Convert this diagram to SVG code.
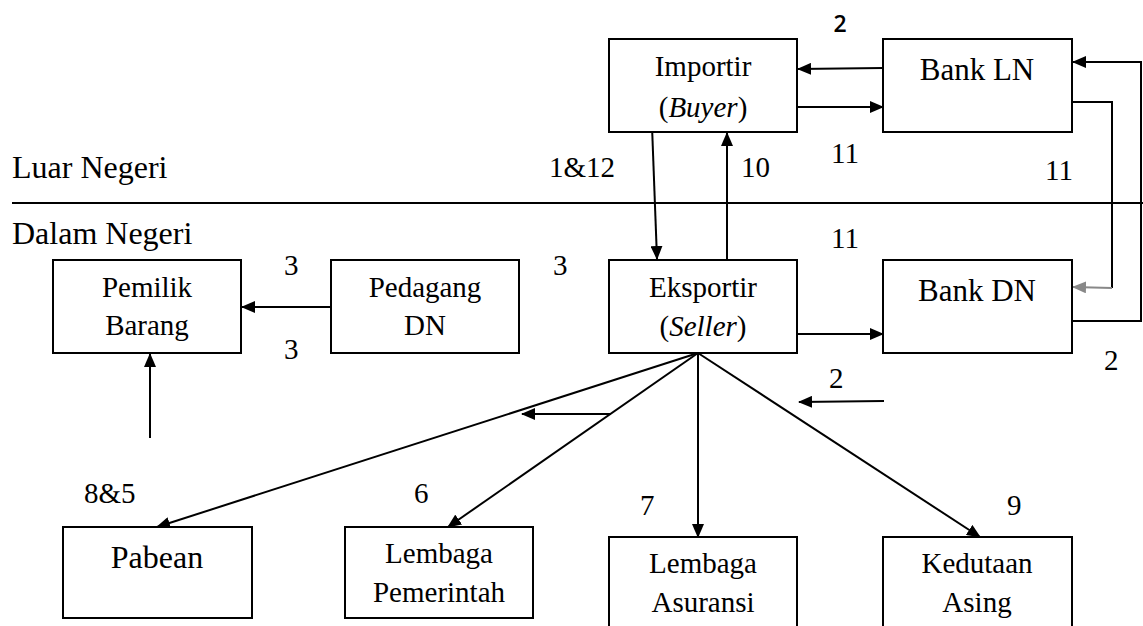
<svg xmlns="http://www.w3.org/2000/svg" width="1143" height="626" viewBox="0 0 1143 626" font-family="'Liberation Serif', 'Times New Roman', serif">
<style>
.box{fill:#fff;stroke:#000;stroke-width:2}
.t{font-family:'Liberation Serif','Times New Roman',serif;font-size:29px;fill:#000;text-anchor:middle}
.n{font-family:'Liberation Serif','Times New Roman',serif;font-size:29px;fill:#000}
.big{font-size:31px}
.c{fill:none;stroke:#000;stroke-width:2}
.g{fill:none;stroke:#888;stroke-width:2}
</style>
<defs>
<marker id="ah" markerUnits="userSpaceOnUse" markerWidth="14" markerHeight="12" refX="13" refY="6" orient="auto"><path d="M0,0 L14,6 L0,12 z" fill="#000"/></marker>
<marker id="ahg" markerUnits="userSpaceOnUse" markerWidth="14" markerHeight="12" refX="13" refY="6" orient="auto"><path d="M0,0 L14,6 L0,12 z" fill="#888"/></marker>
</defs>
<rect width="1143" height="626" fill="#fff"/>
<g id="regions">
<line x1="12" y1="203" x2="1143" y2="203" stroke="#000" stroke-width="2"/>
<text class="n" x="12" y="178" style="font-size:32px">Luar Negeri</text>
<text class="n" x="12" y="244" style="font-size:32px">Dalam Negeri</text>
</g>
<g id="connectors">
<line class="c" x1="883" y1="68" x2="798" y2="69" marker-end="url(#ah)"/>
<line class="c" x1="797" y1="107" x2="883" y2="107" marker-end="url(#ah)"/>
<polyline class="c" points="1072,102 1112,102 1112,288"/>
<line class="g" x1="1112" y1="288" x2="1073" y2="287" marker-end="url(#ahg)"/>
<polyline class="c" points="1072,321 1141,321 1141,62 1073,62" marker-end="url(#ah)"/>
<line class="c" x1="652" y1="126" x2="657" y2="259" marker-end="url(#ah)"/>
<line class="c" x1="727" y1="260" x2="727" y2="133" marker-end="url(#ah)"/>
<line class="c" x1="797" y1="334" x2="883" y2="334" marker-end="url(#ah)"/>
<line class="c" x1="331" y1="307" x2="242" y2="307" marker-end="url(#ah)"/>
<line class="c" x1="150" y1="438" x2="150" y2="354" marker-end="url(#ah)"/>
<line class="c" x1="698" y1="353" x2="157" y2="527" marker-end="url(#ah)"/>
<line class="c" x1="698" y1="353" x2="448" y2="527" marker-end="url(#ah)"/>
<line class="c" x1="698" y1="353" x2="698" y2="537" marker-end="url(#ah)"/>
<line class="c" x1="698" y1="353" x2="980" y2="537" marker-end="url(#ah)"/>
<line class="c" x1="611" y1="414" x2="522" y2="414" marker-end="url(#ah)"/>
<line class="c" x1="884" y1="401" x2="799" y2="402" marker-end="url(#ah)"/>
</g>
<g id="labels">
<text x="840" y="32" style="font-family:'Open Sans','Liberation Sans',sans-serif;font-size:23px;font-weight:600;text-anchor:middle">2</text>
<text class="n" x="549" y="177">1&amp;12</text>
<text class="n" x="741" y="177">10</text>
<text class="n" x="831" y="163">11</text>
<text class="n" x="1045" y="180">11</text>
<text class="n" x="831" y="248">11</text>
<text class="n" x="284" y="275">3</text>
<text class="n" x="284" y="359">3</text>
<text class="n" x="553" y="275">3</text>
<text class="n" x="1104" y="370">2</text>
<text class="n" x="829" y="388">2</text>
<text class="n" x="84" y="503">8&amp;5</text>
<text class="n" x="414" y="503">6</text>
<text class="n" x="640" y="515">7</text>
<text class="n" x="1007" y="515">9</text>
</g>
<g id="importir">
<rect class="box" x="609" y="39" width="188" height="93"/>
<text class="t" x="703" y="76">Importir</text>
<text class="t" x="703" y="117">(<tspan font-style="italic">Buyer</tspan>)</text>
</g>
<g id="bank-ln">
<rect class="box" x="883" y="39" width="189" height="93"/>
<text class="t big" x="977" y="80">Bank LN</text>
</g>
<g id="pemilik-barang">
<rect class="box" x="53" y="260" width="188" height="93"/>
<text class="t" x="147" y="297">Pemilik</text>
<text class="t" x="147" y="335">Barang</text>
</g>
<g id="pedagang-dn">
<rect class="box" x="331" y="260" width="188" height="93"/>
<text class="t" x="425" y="297">Pedagang</text>
<text class="t" x="425" y="335">DN</text>
</g>
<g id="eksportir">
<rect class="box" x="609" y="260" width="188" height="93"/>
<text class="t" x="703" y="297">Eksportir</text>
<text class="t" x="703" y="336">(<tspan font-style="italic">Seller</tspan>)</text>
</g>
<g id="bank-dn">
<rect class="box" x="883" y="260" width="189" height="93"/>
<text class="t big" x="977" y="301">Bank DN</text>
</g>
<g id="pabean">
<rect class="box" x="63" y="527" width="189" height="91"/>
<text class="t" x="157" y="568" style="font-size:32px">Pabean</text>
</g>
<g id="lembaga-pemerintah">
<rect class="box" x="345" y="527" width="188" height="91"/>
<text class="t" x="439" y="563">Lembaga</text>
<text class="t" x="439" y="602">Pemerintah</text>
</g>
<g id="lembaga-asuransi">
<rect class="box" x="609" y="537" width="188" height="110"/>
<text class="t" x="703" y="573">Lembaga</text>
<text class="t" x="703" y="612">Asuransi</text>
</g>
<g id="kedutaan-asing">
<rect class="box" x="883" y="537" width="189" height="110"/>
<text class="t" x="977" y="573">Kedutaan</text>
<text class="t" x="977" y="612">Asing</text>
</g>
</svg>
